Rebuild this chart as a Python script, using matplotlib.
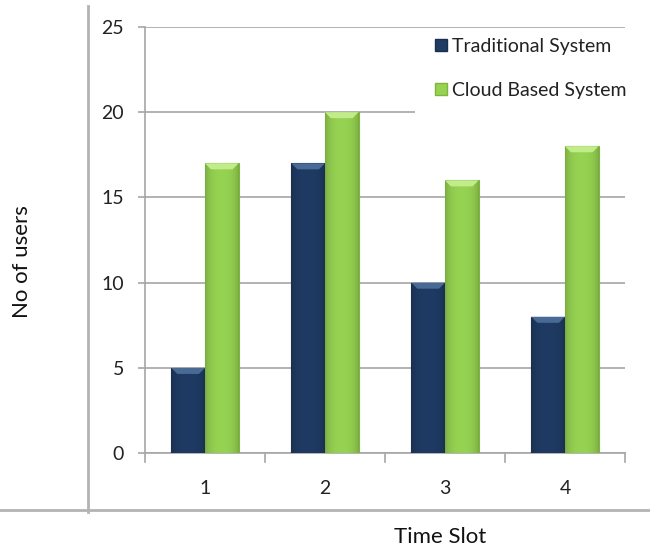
import numpy as np
import matplotlib
matplotlib.use("Agg")
import matplotlib.pyplot as plt
from matplotlib.lines import Line2D
from matplotlib.patches import Patch, Polygon, Rectangle

plt.rcParams['font.family'] = ['Lato', 'DejaVu Sans']

# Data
time_slots = [1, 2, 3, 4]
traditional = [5, 17, 10, 8]
cloud = [17, 20, 16, 18]
series_names = ["Traditional System", "Cloud Based System"]
y_ticks = [0, 5, 10, 15, 20, 25]

navy = "#1f3b63"
green = "#97d352"
grid_c = "#a6a6a6"

fig = plt.figure(figsize=(6.5, 5.5), dpi=100)
ax = fig.add_axes([0.223, 0.176, 0.7385, 0.775])

x = np.arange(len(time_slots)) + 1
w = 0.28

def shaded_bars(xs, vals, color, edge, top_color):
    bars = ax.bar(xs, vals, width=w, color=color, edgecolor=edge,
                  linewidth=0.8, zorder=3)
    base = np.array(matplotlib.colors.to_rgb(color))
    prof = np.linspace(-1, 1, 64)
    shade = 0.80 + 0.20 * (1 - prof ** 2) ** 0.6
    img = np.clip(base[None, None, :] * shade[None, :, None], 0, 1)
    for b in bars:
        x0, y0 = b.get_x(), b.get_y()
        bw, bh = b.get_width(), b.get_height()
        im = ax.imshow(img, extent=[x0, x0 + bw, y0, y0 + bh],
                       aspect='auto', zorder=3.5, interpolation='bilinear')
        im.set_clip_path(b)
        # bevelled top edge
        dx, dy = 0.05, 0.35
        top = y0 + bh
        ax.add_patch(Polygon([[x0, top], [x0 + bw, top],
                              [x0 + bw - dx, top - dy], [x0 + dx, top - dy]],
                             closed=True, facecolor=top_color, edgecolor="none",
                             zorder=3.8))
    return bars

shaded_bars(x - w / 2, traditional, navy, "#17304f", "#4a6a96")
shaded_bars(x + w / 2, cloud, green, "#7fb53f", "#c2ec8c")

ax.set_xlim(0.5, 4.5)
ax.set_ylim(0, 25)
ax.set_yticks(y_ticks)
ax.set_xticks(x)
ax.set_xticklabels([str(t) for t in time_slots])
ax.yaxis.grid(True, color=grid_c, linewidth=1.2, zorder=0)
ax.set_axisbelow(True)

for s in ["top", "right"]:
    ax.spines[s].set_visible(False)
for s in ["left", "bottom"]:
    ax.spines[s].set_color(grid_c)
    ax.spines[s].set_linewidth(1.2)

ax.tick_params(axis='y', length=5, color=grid_c, width=1.2, labelsize=14,
               labelcolor="#222222", pad=10)
ax.tick_params(axis='x', length=0, labelsize=14, labelcolor="#222222", pad=19)
# category boundary ticks
for b in np.arange(0.5, 4.6, 1.0):
    ax.plot([b, b], [0, -0.5], color=grid_c, lw=1.2, clip_on=False, zorder=2)

# white legend panel over the gridlines
ax.add_patch(Rectangle((0.5625, 0.786), 0.48, 0.2, transform=ax.transAxes,
                       facecolor="white", edgecolor="none", zorder=1,
                       clip_on=False))

handles = [Patch(facecolor=navy, edgecolor="#17304f"),
           Patch(facecolor=green, edgecolor="#7fb53f")]
leg = ax.legend(handles, series_names, loc="upper left",
                bbox_to_anchor=(0.604, 0.975), frameon=False, fontsize=14,
                handlelength=0.6, handleheight=0.6, handletextpad=0.3,
                labelspacing=1.4, borderpad=0.0, borderaxespad=0.0)
leg.set_zorder(5)
for t in leg.get_texts():
    t.set_color("#222222")

# outer frame lines of the chart area
fig.add_artist(Line2D([0.135, 0.135], [0.07, 0.99], color="#b3b3b3", lw=2,
                      transform=fig.transFigure))
fig.add_artist(Line2D([0.0, 1.0], [0.073, 0.073], color="#b3b3b3", lw=2,
                      transform=fig.transFigure))

fig.text(0.034, 0.524, "No of users", rotation=90, ha="center", va="center",
         fontsize=16, color="#111111")
fig.text(0.677, 0.024, "Time Slot", ha="center", va="center",
         fontsize=16, color="#111111")

fig.savefig("out.png", dpi=100)
